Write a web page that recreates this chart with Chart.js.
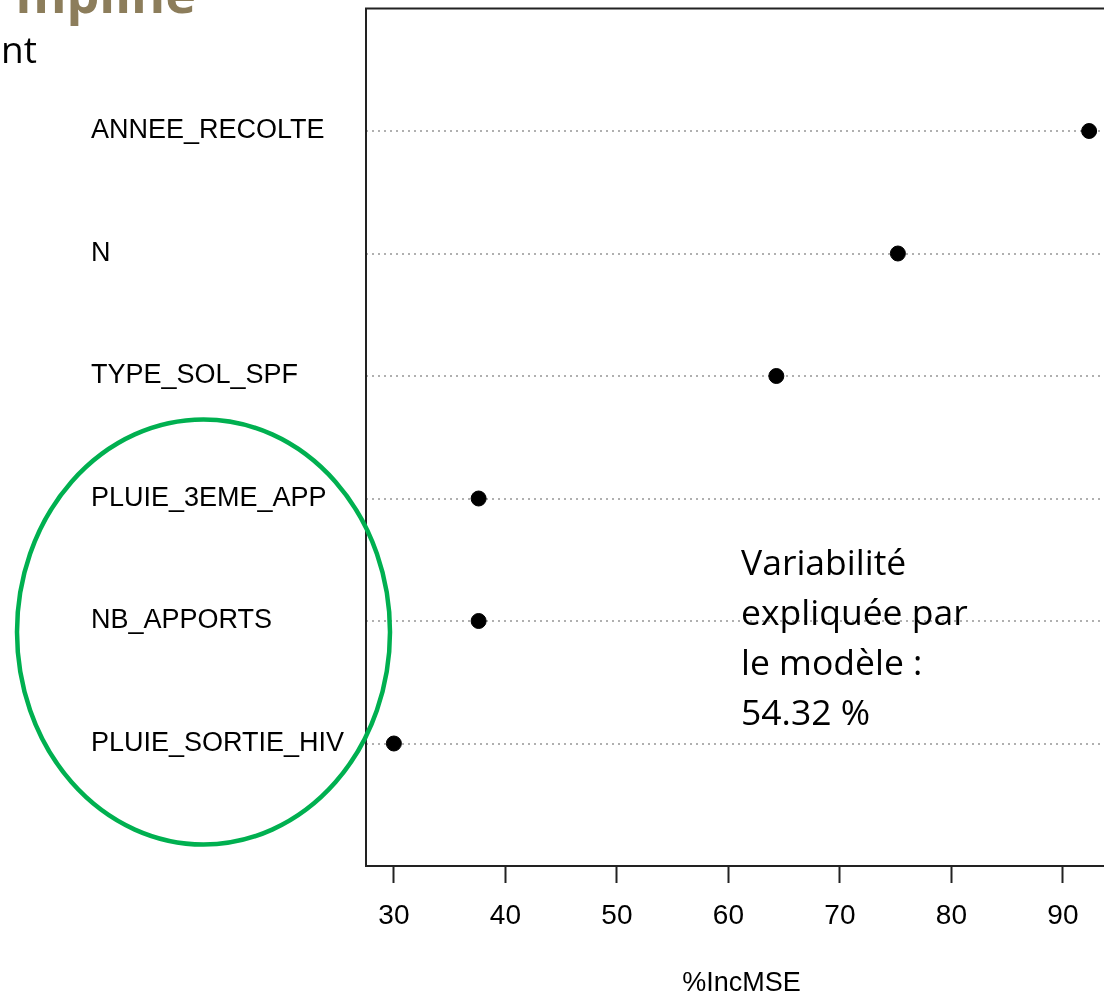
<!DOCTYPE html>
<html lang="fr">
<head>
<meta charset="utf-8">
<title>%IncMSE</title>
<script src="https://cdn.jsdelivr.net/npm/chart.js@4/dist/chart.umd.min.js"></script>
<style>
  html, body { margin: 0; padding: 0; background: #fff; overflow: hidden; width: 1104px; height: 996px; }
  #wrap { position: relative; width: 1104px; height: 996px; }
  #chart { position: absolute; left: 0; top: 0; }
  #overlay { position: absolute; left: 0; top: 0; pointer-events: none; }
</style>
</head>
<body>
<div id="wrap">
  <canvas id="chart" width="1130" height="996"></canvas>
  <svg id="overlay" width="1104" height="996">
    <text x="196" y="13" text-anchor="end" font-family="Open Sans" font-weight="700" font-size="52" fill="#8c7d5b">mpline</text>
    <text x="37" y="63" text-anchor="end" font-family="Open Sans" font-size="37" fill="#000">nt</text>
    <g font-family="Open Sans" font-size="35.5" fill="#000">
      <text x="741" y="575">Variabilité</text>
      <text x="741" y="625">expliquée par</text>
      <text x="741" y="675">le modèle :</text>
      <text x="741" y="725">54.32 %</text>
    </g>
    <ellipse cx="203.5" cy="632" rx="186.5" ry="212.5" fill="none" stroke="#00b050" stroke-width="4.5"/>
  </svg>
</div>
<script>
  // variable importance (random forest), top to bottom
  var variables = ["ANNEE_RECOLTE", "N", "TYPE_SOL_SPF", "PLUIE_3EME_APP", "NB_APPORTS", "PLUIE_SORTIE_HIV"];
  var incMSE = [92.35, 75.2, 64.3, 37.6, 37.6, 30.0];
  var xTicks = [30, 40, 50, 60, 70, 80, 90];

  var xMin = 27.5, xMax = 94.85;
  var rFont = { family: "'Liberation Sans', Arial, sans-serif", size: 27 };
  var tickFont = { family: "'Liberation Sans', Arial, sans-serif", size: 28 };

  var points = incMSE.map(function (v, i) {
    return { x: v, y: i + 1 };
  });

  // plot frame like R's box()
  var boxPlugin = {
    id: 'box',
    afterDatasetsDraw: function (chart) {
      var a = chart.chartArea, ctx = chart.ctx;
      ctx.save();
      ctx.strokeStyle = '#222';
      ctx.lineWidth = 2;
      ctx.strokeRect(a.left, a.top, a.right - a.left, a.bottom - a.top);
      ctx.restore();
    }
  };

  new Chart(document.getElementById("chart"), {
    type: "scatter",
    data: {
      datasets: [{
        data: points,
        backgroundColor: "#000",
        borderColor: "#000",
        pointRadius: 7.5,
        pointHoverRadius: 7.5,
        clip: false
      }]
    },
    options: {
      responsive: false,
      animation: false,
      devicePixelRatio: 1,
      layout: { padding: { left: 91, top: 7, right: 13, bottom: 0 } },
      plugins: { legend: { display: false }, tooltip: { enabled: false } },
      scales: {
        x: {
          type: "linear",
          min: xMin,
          max: xMax,
          afterFit: function (s) { s.height = 130; },
          afterBuildTicks: function (s) {
            s.ticks = xTicks.map(function (v) { return { value: v }; });
          },
          ticks: {
            includeBounds: false,
            autoSkip: false,
            maxRotation: 0,
            padding: 16,
            color: "#000",
            font: tickFont
          },
          grid: {
            drawOnChartArea: false,
            drawTicks: true,
            tickLength: 17,
            tickColor: "#222",
            tickWidth: 2
          },
          border: { display: false },
          title: {
            display: true,
            text: "%IncMSE",
            color: "#000",
            font: rFont,
            padding: { top: 0, bottom: -4 }
          }
        },
        y: {
          type: "linear",
          min: 0,
          max: 7,
          reverse: true,
          afterFit: function (s) {
            s.width = 275;
            s.paddingTop = 0;
            s.paddingBottom = 0;
          },
          afterBuildTicks: function (s) {
            s.ticks = variables.map(function (v, i) { return { value: i + 1 }; });
          },
          ticks: {
            autoSkip: false,
            crossAlign: "far",
            color: "#000",
            font: rFont,
            callback: function (v) { return variables[v - 1] || ""; }
          },
          grid: {
            drawTicks: false,
            color: "#b0b0b0",
            lineWidth: 2
          },
          border: { display: false, dash: [2, 4] }
        }
      }
    },
    plugins: [boxPlugin]
  });
</script>
</body>
</html>
